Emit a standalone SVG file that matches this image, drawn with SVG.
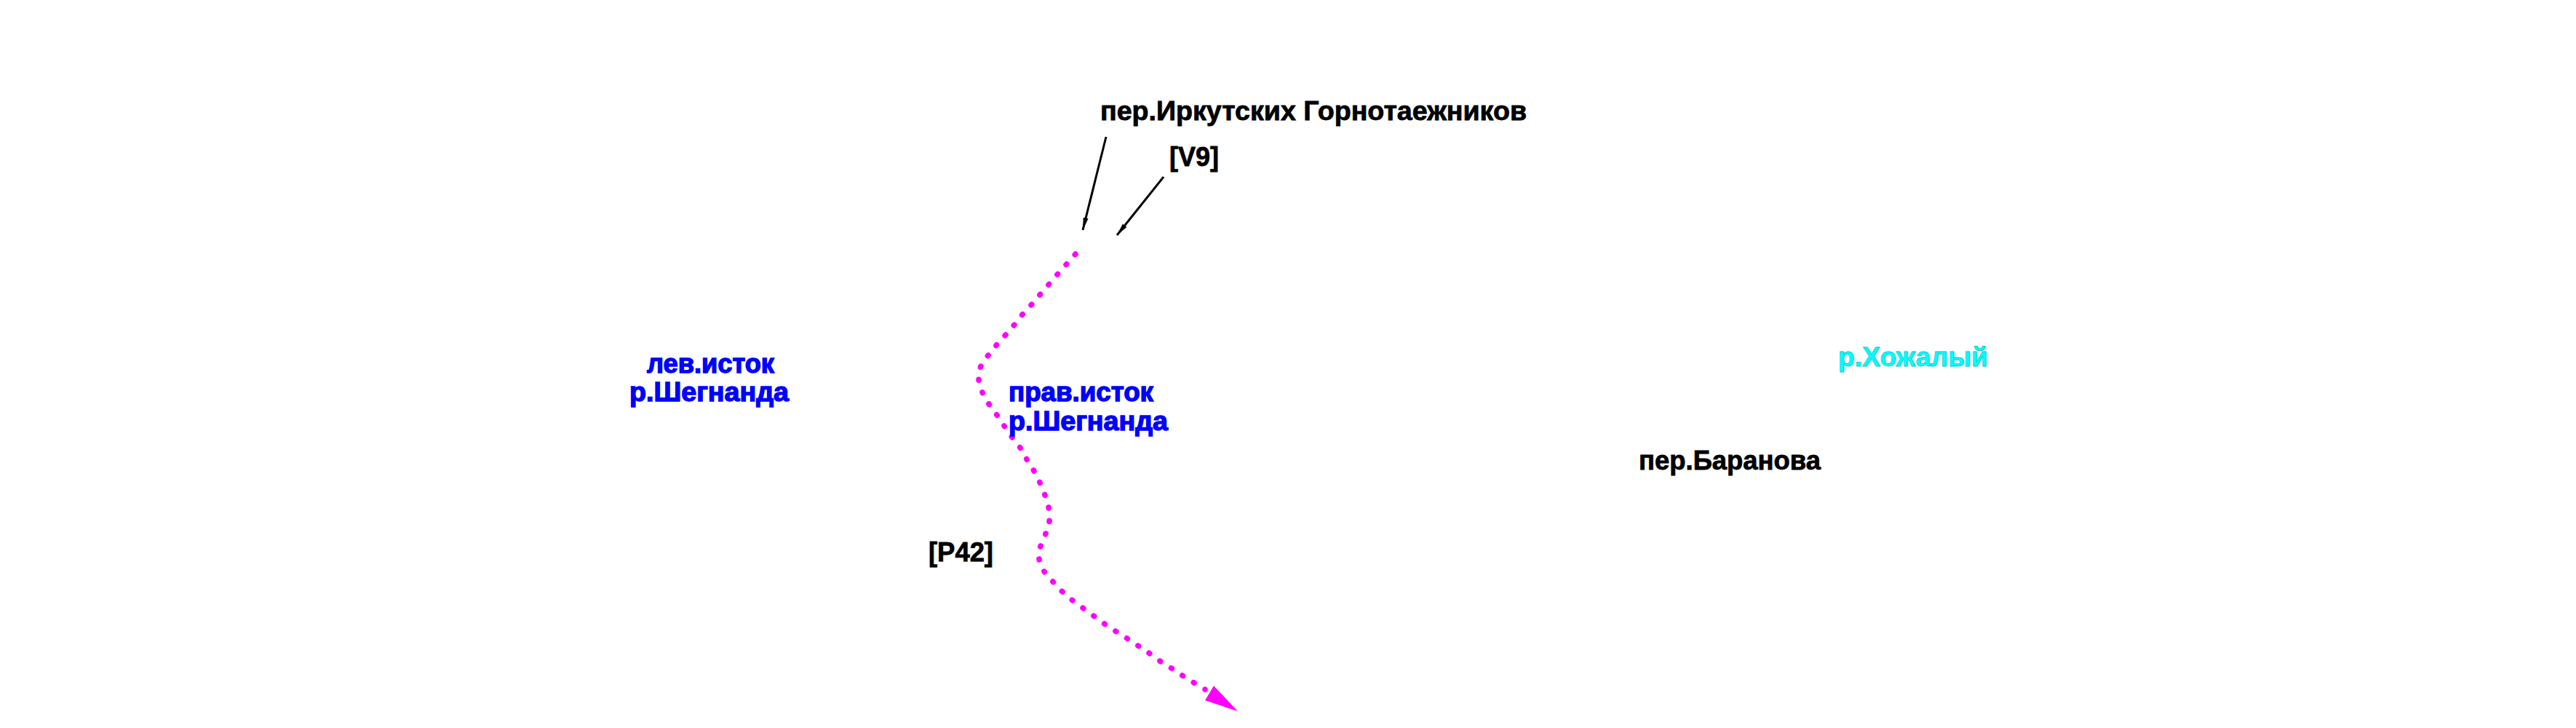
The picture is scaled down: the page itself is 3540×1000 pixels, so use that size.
<svg xmlns="http://www.w3.org/2000/svg" width="3540" height="1000" viewBox="0 0 3540 1000">
<style>
text{font-family:"Liberation Sans",Arial,sans-serif;font-weight:bold;font-size:37px}
.k{fill:#000;stroke:#000;stroke-width:0.8}
.b{fill:#00f;stroke:#00f;stroke-width:1.4}
.c{fill:#0ff;stroke:#0cc;stroke-width:0.8}
.lead{fill:none;stroke:#000;stroke-width:3}
.route{fill:none;stroke:#f0f;stroke-width:7.500;stroke-linecap:round;stroke-dasharray:0.06 0.94}
</style>
<defs>
<marker id="ah" markerUnits="userSpaceOnUse" markerWidth="18" markerHeight="10" refX="17" refY="5" orient="auto"><path d="M0 1.5L17 5L0 8.500Z" fill="#000"/></marker>
</defs>
<rect width="3540" height="1000" fill="#fff"/>
<g id="connectors">
<path class="lead" d="M1520 188L1488 316" marker-end="url(#ah)"/>
<path class="lead" d="M1599 243L1535 323" marker-end="url(#ah)"/>
<path class="route" pathLength="43" d="M1478 349L1465.500 363L1453 377L1441 391L1429 405L1417 419L1405 432L1394 446L1382 460L1370 473C1365 480 1361 484 1358 488C1354 493 1350 498 1348 503C1345 509 1345 515 1345 521C1345 527 1348 533 1350 539C1352 545 1356 550 1359 555L1370 570L1380 585L1391 601L1402 615L1411 631L1421 647C1424 652 1427 657 1429 663C1432 669 1434 674 1436 680C1438 686 1440 691 1441 697C1442 703 1443 710 1442 716C1441 722 1439 727 1437 733C1435 739 1432 744 1430 750C1428 756 1427 762 1428 768C1429 774 1432 780 1435 785C1438 790 1443 795 1447 799C1451 803 1455 808 1459 812C1464 816 1468 820 1473 824L1488 835L1503 846L1518 857L1533 867L1549 877L1564 887L1579 897L1594 908L1610 918L1625 928L1641 938L1656 947"/>
<path d="M1701 977L1668 942L1656 962Z" fill="#f0f"/>
</g>
<g id="pass-irkutsk"><text class="k" x="1512" y="165" textLength="586" lengthAdjust="spacingAndGlyphs">пер.Иркутских Горнотаежников</text></g>
<g id="v9"><text class="k" x="1607" y="228" textLength="68" lengthAdjust="spacingAndGlyphs">[V9]</text></g>
<g id="left-source"><text class="b" x="889" y="512" textLength="175" lengthAdjust="spacingAndGlyphs">лев.исток</text><text class="b" x="865" y="551" textLength="219" lengthAdjust="spacingAndGlyphs">р.Шегнанда</text></g>
<g id="right-source"><text class="b" x="1386" y="551" textLength="199" lengthAdjust="spacingAndGlyphs">прав.исток</text><text class="b" x="1386" y="591" textLength="219" lengthAdjust="spacingAndGlyphs">р.Шегнанда</text></g>
<g id="p42"><text class="k" x="1276" y="771" textLength="89" lengthAdjust="spacingAndGlyphs">[P42]</text></g>
<g id="khozhaly"><text class="c" x="2526" y="503" textLength="206" lengthAdjust="spacingAndGlyphs">р.Хожалый</text></g>
<g id="pass-baranov"><text class="k" x="2252" y="645" textLength="250" lengthAdjust="spacingAndGlyphs">пер.Баранова</text></g>
</svg>
